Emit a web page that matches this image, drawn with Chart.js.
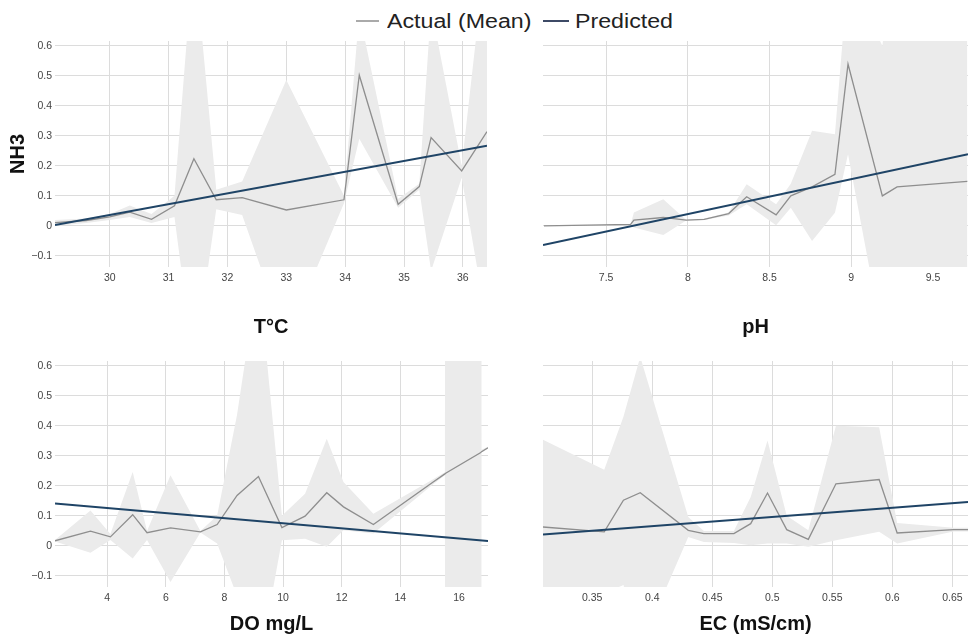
<!DOCTYPE html>
<html>
<head>
<meta charset="utf-8">
<script src="https://cdn.jsdelivr.net/npm/chart.js@4"></script>
<style>
  body { margin: 0; background: #fff; font-family: 'Liberation Sans', Arial, sans-serif; }
  #page { position: relative; width: 968px; height: 634px; overflow: hidden; }
  canvas { position: absolute; }
  .sw { position: absolute; height: 2px; top: 20px; }
  .lg { position: absolute; top: 10px; font-size: 20px; line-height: 22px; color: #222; transform: scaleX(1.16); transform-origin: left center; white-space: nowrap; }
</style>
</head>
<body>
<div id="page">
  <div class="sw" style="left:356px;width:23px;background:#aaaaaa"></div>
  <div class="lg" style="left:387px">Actual (Mean)</div>
  <div class="sw" style="left:543px;width:26px;background:#3d4a66"></div>
  <div class="lg" style="left:575px">Predicted</div>
  <canvas id="c1" width="490" height="308" style="left:0;top:30px"></canvas>
  <canvas id="c2" width="478" height="308" style="left:490px;top:30px"></canvas>
  <canvas id="c3" width="490" height="296" style="left:0;top:338px"></canvas>
  <canvas id="c4" width="478" height="296" style="left:490px;top:338px"></canvas>
</div>
<script>
// shared y axis (NH3)
var Y_TICKS = [-0.1, 0, 0.1, 0.2, 0.3, 0.4, 0.5, 0.6];

// T°C panel
var T_X     = [29.07, 29.6, 30.0, 30.34, 30.71, 31.10, 31.43, 31.81, 32.25, 33.00, 33.98, 34.24, 34.90, 35.26, 35.46, 35.98, 36.41];
var T_MEAN  = [0.011, 0.018, 0.03, 0.046, 0.022, 0.067, 0.224, 0.087, 0.094, 0.053, 0.087, 0.502, 0.072, 0.131, 0.294, 0.183, 0.314];
var T_UPPER = [0.02, 0.025, 0.04, 0.068, 0.04, 0.10, 0.92, 0.12, 0.148, 0.486, 0.10, 0.71, 0.09, 0.14, 0.73, 0.20, 0.95];
var T_LOWER = [0.0, 0.01, 0.02, 0.03, 0.01, 0.03, -0.47, 0.055, 0.036, -0.38, 0.075, 0.29, 0.06, 0.12, -0.15, 0.16, -0.33];
var T_PRED_X = [29.07, 36.41];
var T_PRED_Y = [0.003, 0.267];
var T_TICKS = [30, 31, 32, 33, 34, 35, 36];

// pH panel
var PH_X     = [7.12, 7.65, 7.67, 7.85, 7.99, 8.10, 8.25, 8.36, 8.54, 8.63, 8.76, 8.90, 8.98, 9.19, 9.28, 9.71];
var PH_MEAN  = [0.0, 0.005, 0.019, 0.028, 0.019, 0.022, 0.041, 0.097, 0.037, 0.10, 0.13, 0.172, 0.539, 0.10, 0.13, 0.148];
var PH_UPPER = [0.0, 0.005, 0.045, 0.089, 0.02, 0.025, 0.045, 0.139, 0.072, 0.14, 0.317, 0.305, 0.84, 0.60, 1.0, 1.0];
var PH_LOWER = [0.0, 0.005, -0.005, -0.03, 0.018, 0.02, 0.035, 0.072, 0.002, 0.06, -0.05, 0.044, 0.239, -0.37, -0.7, -0.7];
var PH_PRED_X = [7.114, 9.714];
var PH_PRED_Y = [-0.064, 0.239];
var PH_TICKS = [7.5, 8, 8.5, 9, 9.5];

// DO mg/L panel
var DO_X     = [2.22, 3.43, 4.11, 4.87, 5.36, 6.16, 7.18, 7.75, 8.43, 9.16, 9.96, 10.75, 11.49, 12.06, 13.08, 15.12, 15.52, 15.56, 16.73, 16.77, 16.99];
var DO_MEAN  = [0.017, 0.049, 0.03, 0.104, 0.044, 0.06, 0.047, 0.071, 0.168, 0.231, 0.061, 0.099, 0.177, 0.13, 0.071, 0.213, 0.24, 0.243, 0.31, 0.314, 0.327];
var DO_UPPER = [0.02, 0.118, 0.04, 0.246, 0.05, 0.235, 0.05, 0.10, 0.437, 0.91, 0.10, 0.174, 0.357, 0.213, 0.107, 0.222, 0.245, 5, 5, 0.32, 0.33];
var DO_LOWER = [0.015, -0.023, 0.02, -0.042, 0.02, -0.12, 0.045, 0.008, -0.167, -0.41, 0.019, 0.024, -0.003, 0.052, 0.041, 0.205, 0.235, -5, -5, 0.31, 0.325];
var DO_PRED_X = [2.22, 16.99];
var DO_PRED_Y = [0.141, 0.016];
var DO_TICKS = [4, 6, 8, 10, 12, 14, 16];

// EC (mS/cm) panel
var EC_X     = [0.309, 0.360, 0.376, 0.390, 0.430, 0.443, 0.468, 0.482, 0.496, 0.512, 0.530, 0.553, 0.589, 0.604, 0.651, 0.663];
var EC_MEAN  = [0.063, 0.047, 0.152, 0.177, 0.052, 0.041, 0.041, 0.074, 0.176, 0.054, 0.022, 0.207, 0.221, 0.043, 0.054, 0.054];
var EC_UPPER = [0.354, 0.254, 0.43, 0.63, 0.096, 0.05, 0.05, 0.163, 0.351, 0.10, 0.052, 0.40, 0.395, 0.076, 0.06, 0.06];
var EC_LOWER = [-0.23, -0.16, -0.13, -0.34, 0.03, 0.013, 0.01, 0.002, 0.008, 0.008, -0.003, 0.019, 0.047, 0.008, 0.048, 0.048];
var EC_PRED_X = [0.309, 0.663];
var EC_PRED_Y = [0.038, 0.146];
var EC_TICKS = [0.35, 0.4, 0.45, 0.5, 0.55, 0.6, 0.65];

Chart.defaults.font.family = "'Liberation Sans', Arial, sans-serif";

function pts(xs, ys) {
  return xs.map(function(x, i) { return {x: x, y: ys[i]}; });
}

function makePanel(id, p) {
  var datasets = [
    { data: pts(p.x, p.upper), borderWidth: 0, pointRadius: 0, fill: '+1', backgroundColor: '#ebebeb', order: 3 },
    { data: pts(p.x, p.lower), borderWidth: 0, pointRadius: 0, fill: false, order: 3 },
    { data: pts(p.x, p.mean), borderColor: '#8e8e8e', borderWidth: 1.3, pointRadius: 0, fill: false, order: 2 },
    { data: pts(p.predX, p.predY), borderColor: '#1f4466', borderWidth: 2, pointRadius: 0, fill: false, order: 1 }
  ];

  new Chart(document.getElementById(id), {
    type: 'line',
    data: { datasets: datasets },
    options: {
      responsive: false,
      animation: false,
      devicePixelRatio: 1,
      layout: { padding: { top: p.padTop, right: p.padRight, left: 0, bottom: 0 } },
      plugins: { legend: { display: false }, tooltip: { enabled: false } },
      scales: {
        x: {
          type: 'linear',
          min: p.xmin, max: p.xmax,
          border: { display: false },
          grid: { color: '#dcdcdc', drawTicks: false },
          afterBuildTicks: function(s) { s.ticks = p.ticks.map(function(v) { return {value: v}; }); },
          afterFit: function(s) { s.height = p.xAxisH; },
          ticks: {
            padding: 5, color: '#444', font: { size: 10.5 }, maxRotation: 0,
            callback: function(v) { return String(Math.round(v * 1000) / 1000); }
          },
          title: {
            display: true, text: p.title, color: '#111',
            font: { size: 20, weight: 'bold', lineHeight: 1 },
            padding: { top: 0, bottom: p.titlePad }
          }
        },
        y: {
          min: -0.137, max: 0.616,
          border: { display: false },
          grid: { color: '#dcdcdc', drawTicks: false },
          afterBuildTicks: function(s) { s.ticks = Y_TICKS.map(function(v) { return {value: v}; }); },
          afterFit: function(s) { s.width = p.yAxisW; },
          ticks: {
            display: p.showY, padding: 3, color: '#444', font: { size: 10.5 },
            callback: function(v) {
              var r = Math.round(v * 10) / 10;
              return r < 0 ? '\u2212' + Math.abs(r) : String(r);
            }
          },
          title: {
            display: p.yTitle, text: 'NH3', color: '#111',
            font: { size: 20, weight: 'bold', lineHeight: 1 },
            padding: { top: 8, bottom: 0 }
          }
        }
      }
    }
  });
}

makePanel('c1', { x: T_X, mean: T_MEAN, upper: T_UPPER, lower: T_LOWER, predX: T_PRED_X, predY: T_PRED_Y,
  ticks: T_TICKS, xmin: 29.07, xmax: 36.41, title: 'T°C', showY: true, yTitle: true,
  padTop: 11, padRight: 3, xAxisH: 71, yAxisW: 55, titlePad: 1 });

makePanel('c2', { x: PH_X, mean: PH_MEAN, upper: PH_UPPER, lower: PH_LOWER, predX: PH_PRED_X, predY: PH_PRED_Y,
  ticks: PH_TICKS, xmin: 7.114, xmax: 9.714, title: 'pH', showY: false, yTitle: false,
  padTop: 11, padRight: 0, xAxisH: 71, yAxisW: 53, titlePad: 1 });

makePanel('c3', { x: DO_X, mean: DO_MEAN, upper: DO_UPPER, lower: DO_LOWER, predX: DO_PRED_X, predY: DO_PRED_Y,
  ticks: DO_TICKS, xmin: 2.22, xmax: 16.99, title: 'DO mg/L', showY: true, yTitle: false,
  padTop: 23, padRight: 2, xAxisH: 47, yAxisW: 55, titlePad: 0 });

makePanel('c4', { x: EC_X, mean: EC_MEAN, upper: EC_UPPER, lower: EC_LOWER, predX: EC_PRED_X, predY: EC_PRED_Y,
  ticks: EC_TICKS, xmin: 0.309, xmax: 0.663, title: 'EC (mS/cm)', showY: false, yTitle: false,
  padTop: 23, padRight: 0, xAxisH: 47, yAxisW: 53, titlePad: 0 });
</script>
</body>
</html>
